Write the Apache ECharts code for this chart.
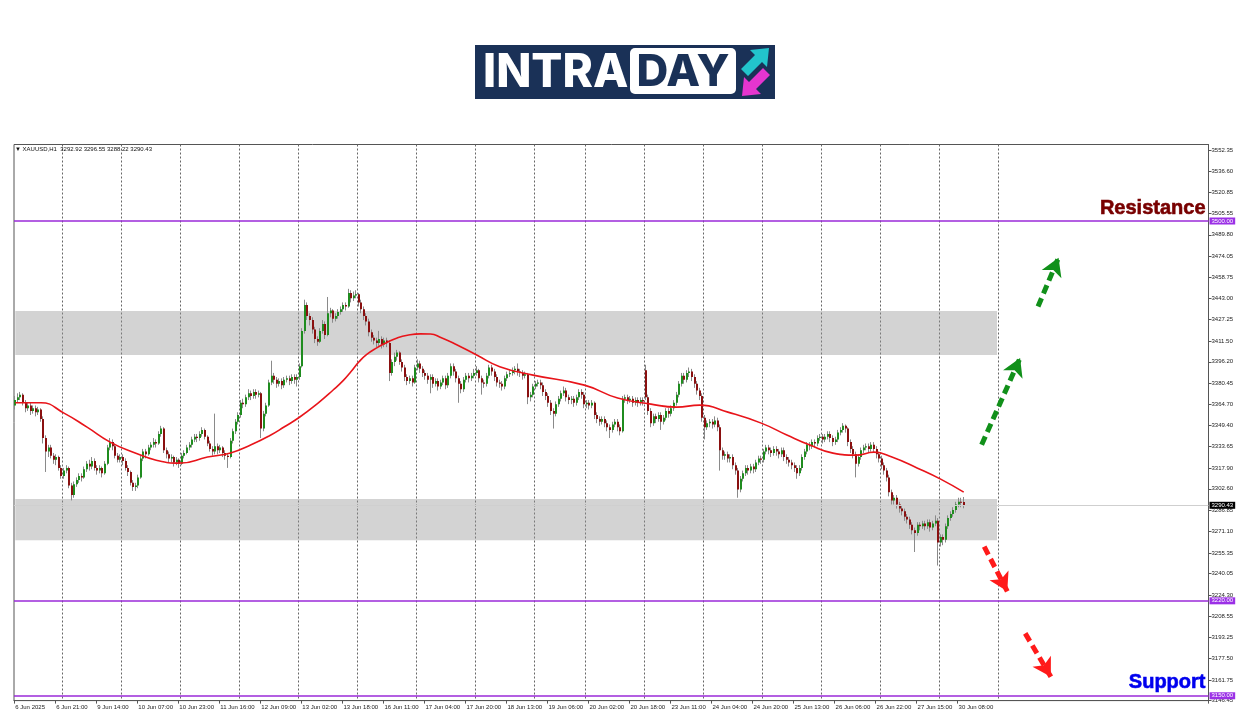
<!DOCTYPE html>
<html><head><meta charset="utf-8">
<script src="https://cdn.jsdelivr.net/npm/echarts@6/dist/echarts.min.js"></script>
<style>html,body{margin:0;padding:0;background:#fff}#c{width:1250px;height:716px}</style>
</head><body><div id="c"></div>
<script>
// ---------------- data ----------------
const symbolName = 'XAUUSD,H1';
const slotCount = 466;          // hourly slots on the axis (incl. empty right margin)
const labelStep = 16;           // bars between time labels
const xTickLabels = ['6 Jun 2025','6 Jun 21:00','9 Jun 14:00','10 Jun 07:00','10 Jun 23:00','11 Jun 16:00','12 Jun 09:00','13 Jun 02:00','13 Jun 18:00','16 Jun 11:00','17 Jun 04:00','17 Jun 20:00','18 Jun 13:00','19 Jun 06:00','20 Jun 02:00','20 Jun 18:00','23 Jun 11:00','24 Jun 04:00','24 Jun 20:00','25 Jun 13:00','26 Jun 06:00','26 Jun 22:00','27 Jun 15:00','30 Jun 08:00'];
const daySeparators = [19,42,65,88,111,134,157,180,203,223,246,269,292,315,338,361,384];
const yTickValues = [3552.35,3536.60,3520.85,3505.55,3489.80,3474.05,3458.75,3443.00,3427.25,3411.50,3396.20,3380.45,3364.70,3349.40,3333.65,3317.90,3302.60,3286.85,3271.10,3255.35,3240.05,3224.30,3208.55,3193.25,3177.50,3161.75,3146.45];
const yMin = 3146.45, yMax = 3556.4;
// [open, close, low, high]
const candles = [
[3364,3368,3361,3371],[3368,3370,3366,3373],[3370,3372,3368,3374],[3372,3366,3364,3373],[3366,3362,3359,3368],[3362,3364,3360,3366],[3364,3360,3357,3366],[3360,3362,3358,3364],[3362,3359,3356,3364],[3359,3361,3357,3363],
[3361,3354,3352,3362],[3354,3340,3336,3356],[3340,3330,3315,3342],[3330,3333,3326,3335],[3333,3327,3325,3335],[3327,3324,3321,3329],[3324,3326,3320,3328],[3326,3318,3316,3327],[3318,3312,3310,3320],[3312,3316,3310,3318],
[3316,3318,3314,3320],[3318,3305,3303,3319],[3305,3298,3294,3307],[3298,3306,3296,3308],[3306,3309,3304,3311],[3309,3312,3307,3314],[3312,3311,3308,3314],[3311,3317,3310,3319],[3317,3321,3315,3323],[3321,3319,3316,3324],
[3319,3323,3317,3326],[3323,3318,3316,3325],[3318,3316,3313,3320],[3316,3318,3314,3320],[3318,3314,3311,3319],[3314,3321,3313,3323],[3321,3333,3320,3335],[3333,3337,3331,3340],[3337,3334,3331,3339],[3334,3327,3325,3336],
[3327,3324,3322,3329],[3324,3326,3322,3328],[3326,3323,3320,3328],[3323,3318,3316,3325],[3318,3315,3312,3320],[3315,3307,3305,3316],[3307,3304,3301,3309],[3304,3305,3301,3307],[3305,3311,3303,3313],[3311,3325,3310,3327],
[3325,3330,3323,3332],[3330,3328,3325,3332],[3328,3333,3327,3335],[3333,3335,3331,3337],[3335,3337,3333,3340],[3337,3336,3333,3339],[3336,3343,3335,3345],[3343,3347,3341,3349],[3347,3331,3329,3348],[3331,3328,3325,3333],
[3328,3325,3322,3330],[3325,3326,3322,3328],[3326,3322,3319,3327],[3322,3324,3320,3326],[3324,3321,3318,3325],[3321,3327,3320,3329],[3327,3329,3325,3331],[3329,3333,3328,3335],[3333,3335,3331,3337],[3335,3339,3333,3341],
[3339,3341,3337,3343],[3341,3340,3337,3343],[3340,3343,3338,3345],[3343,3346,3341,3348],[3346,3341,3339,3347],[3341,3336,3334,3342],[3336,3332,3330,3338],[3332,3330,3327,3334],[3330,3334,3328,3358],[3334,3331,3328,3336],
[3331,3333,3329,3335],[3333,3329,3326,3334],[3329,3327,3324,3331],[3327,3326,3318,3329],[3326,3338,3325,3340],[3338,3345,3336,3347],[3345,3352,3343,3354],[3352,3357,3350,3359],[3357,3366,3355,3368],[3366,3365,3362,3369],
[3365,3370,3363,3372],[3370,3373,3368,3376],[3373,3371,3368,3375],[3371,3374,3369,3376],[3374,3372,3369,3376],[3372,3373,3370,3375],[3373,3347,3340,3374],[3347,3358,3345,3360],[3358,3364,3356,3366],[3364,3381,3363,3383],
[3381,3386,3379,3397],[3386,3383,3380,3388],[3383,3380,3377,3385],[3380,3382,3378,3384],[3382,3379,3376,3384],[3379,3383,3377,3385],[3383,3384,3381,3386],[3384,3382,3379,3386],[3382,3385,3380,3387],[3385,3383,3380,3387],
[3383,3385,3378,3387],[3385,3393,3383,3395],[3393,3419,3392,3421],[3419,3438,3417,3442],[3438,3430,3427,3440],[3430,3427,3423,3432],[3427,3420,3417,3429],[3420,3413,3410,3422],[3413,3411,3408,3415],[3411,3419,3410,3421],
[3419,3424,3417,3427],[3424,3416,3413,3426],[3416,3432,3415,3444],[3432,3434,3429,3436],[3434,3428,3425,3435],[3428,3430,3426,3432],[3430,3433,3428,3435],[3433,3435,3431,3437],[3435,3438,3433,3440],[3438,3437,3434,3440],
[3437,3447,3436,3450],[3447,3443,3440,3449],[3443,3445,3441,3448],[3445,3446,3443,3449],[3446,3440,3437,3447],[3440,3435,3432,3442],[3435,3430,3427,3437],[3430,3426,3423,3432],[3426,3418,3415,3428],[3418,3414,3411,3420],
[3414,3412,3409,3416],[3412,3410,3407,3414],[3410,3413,3408,3419],[3413,3409,3406,3415],[3409,3412,3407,3414],[3412,3410,3407,3414],[3410,3388,3382,3412],[3388,3396,3386,3398],[3396,3400,3393,3403],[3400,3403,3397,3405],
[3403,3396,3394,3404],[3396,3392,3389,3398],[3392,3385,3382,3394],[3385,3382,3379,3387],[3382,3384,3380,3386],[3384,3381,3378,3386],[3381,3392,3380,3394],[3392,3395,3390,3398],[3395,3391,3388,3397],[3391,3388,3385,3393],
[3388,3386,3383,3390],[3386,3383,3380,3388],[3383,3385,3373,3387],[3385,3380,3377,3387],[3380,3382,3378,3384],[3382,3378,3375,3384],[3378,3381,3376,3383],[3381,3384,3379,3386],[3384,3379,3376,3386],[3379,3386,3377,3388],
[3386,3393,3384,3395],[3393,3389,3386,3395],[3389,3384,3381,3391],[3384,3380,3366,3386],[3380,3376,3373,3382],[3376,3383,3374,3385],[3383,3386,3381,3388],[3386,3384,3381,3388],[3384,3386,3382,3388],[3386,3388,3384,3391],
[3388,3390,3386,3393],[3390,3384,3381,3391],[3384,3381,3372,3386],[3381,3380,3377,3383],[3380,3386,3378,3388],[3386,3392,3384,3394],[3392,3389,3386,3394],[3389,3385,3382,3391],[3385,3381,3378,3387],[3381,3380,3377,3383],
[3380,3378,3375,3382],[3378,3384,3376,3386],[3384,3387,3382,3389],[3387,3388,3385,3390],[3388,3390,3386,3392],[3390,3391,3387,3393],[3391,3389,3386,3395],[3389,3388,3385,3391],[3388,3386,3383,3390],[3386,3387,3384,3389],
[3387,3370,3365,3388],[3370,3372,3367,3374],[3372,3378,3370,3380],[3378,3380,3376,3382],[3380,3381,3378,3383],[3381,3379,3376,3383],[3379,3374,3371,3381],[3374,3371,3368,3376],[3371,3366,3363,3373],[3366,3360,3357,3368],
[3360,3358,3347,3362],[3358,3365,3356,3367],[3365,3369,3363,3371],[3369,3373,3367,3375],[3373,3375,3371,3378],[3375,3370,3367,3377],[3370,3368,3365,3372],[3368,3369,3365,3371],[3369,3366,3363,3371],[3366,3370,3364,3372],
[3370,3374,3368,3376],[3374,3372,3369,3376],[3372,3365,3362,3374],[3365,3366,3362,3368],[3366,3364,3361,3368],[3364,3366,3362,3368],[3366,3357,3354,3367],[3357,3354,3351,3359],[3354,3352,3349,3356],[3352,3354,3350,3356],
[3354,3351,3348,3356],[3351,3348,3345,3353],[3348,3346,3340,3350],[3346,3350,3344,3352],[3350,3352,3348,3354],[3352,3348,3345,3354],[3348,3345,3342,3350],[3345,3369,3344,3371],[3369,3370,3366,3372],[3370,3368,3365,3372],
[3368,3369,3366,3371],[3369,3366,3363,3371],[3366,3368,3364,3370],[3368,3366,3363,3370],[3366,3368,3364,3370],[3368,3367,3364,3370],[3390,3370,3368,3394],[3370,3360,3357,3372],[3360,3351,3348,3362],[3351,3356,3349,3358],
[3356,3354,3351,3358],[3354,3357,3352,3359],[3357,3352,3346,3359],[3352,3355,3350,3357],[3355,3360,3353,3362],[3360,3358,3355,3362],[3358,3362,3356,3364],[3362,3366,3360,3368],[3366,3372,3364,3374],[3372,3380,3370,3382],
[3380,3386,3378,3388],[3386,3383,3380,3388],[3383,3388,3381,3390],[3388,3389,3385,3392],[3389,3385,3382,3391],[3385,3380,3377,3387],[3380,3375,3372,3382],[3375,3371,3368,3377],[3371,3355,3352,3373],[3355,3348,3339,3357],
[3348,3351,3346,3353],[3351,3352,3348,3354],[3352,3350,3347,3354],[3350,3353,3348,3356],[3353,3348,3345,3355],[3348,3331,3316,3350],[3331,3327,3324,3333],[3327,3328,3324,3330],[3328,3325,3322,3330],[3325,3326,3322,3328],
[3326,3320,3317,3328],[3320,3316,3313,3322],[3316,3302,3296,3318],[3302,3310,3300,3312],[3310,3314,3308,3316],[3314,3318,3312,3320],[3318,3316,3313,3320],[3316,3319,3314,3321],[3319,3317,3314,3321],[3317,3322,3315,3324],
[3322,3325,3320,3327],[3325,3324,3321,3327],[3324,3330,3322,3332],[3330,3333,3328,3335],[3333,3331,3328,3335],[3331,3329,3326,3333],[3329,3332,3327,3334],[3332,3330,3327,3334],[3330,3328,3325,3332],[3328,3331,3326,3333],
[3331,3326,3323,3333],[3326,3324,3321,3328],[3324,3322,3319,3326],[3322,3320,3317,3324],[3320,3318,3315,3322],[3318,3314,3310,3320],[3314,3318,3312,3320],[3318,3326,3316,3328],[3326,3330,3324,3332],[3330,3335,3328,3337],
[3335,3334,3331,3337],[3334,3337,3332,3339],[3337,3336,3333,3339],[3336,3340,3334,3342],[3340,3341,3338,3343],[3341,3339,3336,3343],[3339,3341,3337,3343],[3341,3343,3339,3345],[3343,3340,3337,3345],[3340,3337,3334,3342],
[3337,3339,3335,3341],[3339,3344,3337,3346],[3344,3346,3342,3348],[3346,3349,3344,3351],[3349,3347,3344,3350],[3347,3337,3334,3348],[3337,3332,3329,3339],[3332,3328,3325,3334],[3328,3321,3311,3330],[3321,3326,3319,3328],
[3326,3331,3324,3333],[3331,3333,3329,3335],[3333,3334,3331,3336],[3334,3332,3329,3336],[3332,3335,3330,3337],[3335,3332,3329,3337],[3332,3328,3325,3334],[3328,3325,3322,3330],[3325,3320,3317,3327],[3320,3316,3313,3322],
[3316,3311,3308,3318],[3311,3300,3297,3313],[3300,3294,3291,3302],[3294,3296,3291,3298],[3296,3291,3288,3298],[3291,3288,3285,3293],[3288,3286,3283,3290],[3286,3282,3279,3288],[3282,3280,3277,3284],[3280,3276,3273,3282],
[3276,3272,3269,3278],[3272,3270,3256,3274],[3270,3276,3268,3278],[3276,3275,3272,3278],[3275,3277,3273,3279],[3277,3275,3272,3279],[3275,3278,3273,3280],[3278,3274,3271,3280],[3274,3277,3272,3279],[3277,3279,3275,3283],
[3279,3263,3246,3281],[3263,3267,3260,3269],[3267,3265,3261,3269],[3265,3275,3263,3277],[3275,3281,3273,3283],[3281,3284,3279,3286],[3284,3287,3282,3289],[3287,3291,3285,3293],[3291,3293,3289,3296],[3293,3292.92,3289,3296],
[3292.92,3290.43,3288.22,3296.55]
];
// moving average: [bar index, value]
const maPoints = [[0,3366],[10,3366],[19,3358.4],[28,3348],[37,3337],[46,3329.6],[55,3323.7],[64,3321.5],[75,3326],[84,3329],[92,3335],[99,3341.5],[105,3348.3],[111,3355.5],[118,3365.6],[124,3375.4],[128,3382.5],[131,3389],[134,3396],[137,3401.5],[141,3406.5],[145,3410.5],[149,3413.8],[153,3415.8],[158,3416.8],[162,3416.7],[166,3414.2],[172,3409],[180,3401.2],[189,3392.6],[202,3386.4],[222,3379],[235,3369.5],[248,3365],[258,3362.8],[267,3364.3],[278,3359.1],[291,3351],[301,3342.2],[310,3334.8],[319,3328.9],[328,3327.4],[335,3329.6],[342,3326],[352,3317.8],[361,3309.7],[370,3300.1]];
const levels = [{value: 3500, note: 'Resistance'}, {value: 3220, note: ''}, {value: 3150, note: 'Support'}];
const lastPrice = 3290.43;
const zones = [[3401.2, 3433.6], [3264.7, 3295.0]];
const zoneEndBar = 383;
const upArrows = [[[377, 3335], [392, 3399]], [[399, 3437], [407, 3473]]];
const downArrows = [[[378, 3260], [387, 3227]], [[394, 3196], [404, 3164]]];

// ---------------- chart ----------------
const FONT = 'Liberation Sans';
const slots = Array.from({length: slotCount}, (_, i) => String(i));
const sepSet = new Set(daySeparators);
const lastBar = candles[candles.length - 1];
const labelTick = (i) => i % labelStep === 0 && i / labelStep < xTickLabels.length;

const BULL = '#1f8c1f', BEAR = '#8a1010', WICK = '#8a8a8a';
function renderCandle(params, api) {
  const i = api.value(0);
  const o = api.value(1), c = api.value(2), l = api.value(3), h = api.value(4);
  const pO = api.coord([i, o]), pC = api.coord([i, c]);
  const pL = api.coord([i, l]), pH = api.coord([i, h]);
  const cx = Math.round(pO[0]);
  const top = Math.min(pO[1], pC[1]), bot = Math.max(pO[1], pC[1]);
  return {
    type: 'group',
    children: [
      {type: 'line', shape: {x1: cx - 0.5, y1: pH[1], x2: cx - 0.5, y2: pL[1]}, style: {stroke: WICK, lineWidth: 1}},
      {type: 'rect', shape: {x: cx - 1, y: top, width: 2, height: Math.max(1, bot - top)}, style: {fill: c >= o ? BULL : BEAR}}
    ]
  };
}

const boxLabel = (bg) => ({show: true, position: 'end', distance: 1, backgroundColor: bg, color: '#fff', fontSize: 6, fontFamily: FONT, padding: [1, 2, 0, 2]});
const noteColor = {Resistance: '#780000', Support: '#0000ee'};

const markLineData = [];
levels.forEach(lv => {
  markLineData.push({yAxis: lv.value, lineStyle: {color: '#9a2ad8', width: 1.5, type: 'solid'}, label: Object.assign(boxLabel('#9b30e6'), {formatter: lv.value.toFixed(2)})});
  if (lv.note) {
    markLineData.push({yAxis: lv.value, lineStyle: {color: 'rgba(0,0,0,0)', width: 0}, label: {show: true, position: 'insideEndTop', distance: 3, formatter: lv.note, fontSize: 20, fontWeight: 900, fontFamily: FONT, color: noteColor[lv.note], textBorderColor: noteColor[lv.note], textBorderWidth: 0.6}});
  }
});
markLineData.push({yAxis: lastPrice, lineStyle: {color: '#cfcfcf', width: 1, type: 'solid'}, label: Object.assign(boxLabel('#000'), {formatter: lastPrice.toFixed(2)})});
const arrowItem = (pair, color) => [
  {coord: pair[0], symbol: 'none', lineStyle: {color, width: 5, type: [9, 5]}, label: {show: false}},
  {coord: pair[1], symbol: 'arrow', symbolSize: [16, 18]}
];
upArrows.forEach(p => markLineData.push(arrowItem(p, '#11901a')));
downArrows.forEach(p => markLineData.push(arrowItem(p, '#ff1a1a')));

const chart = echarts.init(document.getElementById('c'), null, {renderer: 'canvas'});
chart.setOption({
  animation: false,
  backgroundColor: '#fff',
  title: {
    text: '\u25BC ' + symbolName + '  ' + [lastBar[0], lastBar[3], lastBar[2], lastBar[1]].map(v => v.toFixed(2)).join(' '),
    left: 15, top: 146, padding: 0,
    textStyle: {fontSize: 6, fontWeight: 'normal', color: '#111', fontFamily: FONT}
  },
  grid: {left: 14, right: 41.5, top: 144.5, bottom: 15.4, show: true, borderColor: '#555', borderWidth: 1, outerBoundsMode: 'none', containLabel: false},
  xAxis: {
    type: 'category', data: slots, boundaryGap: true,
    axisLine: {show: true, lineStyle: {color: '#555'}},
    axisTick: {show: true, length: 3, interval: labelTick, lineStyle: {color: '#555'}},
    axisLabel: {show: true, interval: labelTick, formatter: (v) => xTickLabels[Number(v) / labelStep] || '', fontSize: 6, fontFamily: FONT, color: '#222', align: 'left', margin: 4},
    splitLine: {show: true, interval: (i) => sepSet.has(i), lineStyle: {color: '#666', type: [2, 2], width: 1}}
  },
  yAxis: {
    type: 'value', position: 'right', min: yMin, max: yMax,
    axisLine: {show: true, lineStyle: {color: '#555'}},
    axisTick: {show: true, length: 3, customValues: yTickValues, lineStyle: {color: '#555'}},
    axisLabel: {customValues: yTickValues, formatter: (v) => v.toFixed(2), fontSize: 6, fontFamily: FONT, color: '#222', margin: 3},
    splitLine: {show: false}
  },
  series: [
    {
      type: 'custom', name: symbolName, z: 2,
      data: candles.map((r, i) => [i, r[0], r[1], r[2], r[3]]),
      encode: {x: 0, y: [1, 2, 3, 4]},
      renderItem: renderCandle
    },
    {
      type: 'line', name: 'MA', z: 3, data: maPoints, smooth: 0.5, symbol: 'none',
      lineStyle: {color: '#e8141a', width: 1.6},
      markArea: {silent: true, itemStyle: {color: 'rgba(150,150,150,0.42)'},
        data: zones.map(([lo, hi]) => [{xAxis: 0, yAxis: hi}, {xAxis: zoneEndBar, yAxis: lo}])},
      markLine: {silent: true, symbol: 'none', animation: false, precision: 2, data: markLineData}
    }
  ],
  graphic: [
    {type: 'rect', shape: {x: 475, y: 45, width: 300, height: 54}, style: {fill: '#1a3157'}},
    {type: 'rect', shape: {x: 630, y: 48, width: 106, height: 46, r: 5}, style: {fill: '#fff'}},
    {type: 'text', style: {text: 'INTRA', x: 483, y: 73, fill: '#fff', fontSize: 46, fontWeight: 800, fontFamily: 'Inter', textVerticalAlign: 'middle'}},
    {type: 'text', style: {text: 'DAY', x: 683, y: 73, fill: '#1a3157', fontSize: 44, fontWeight: 800, fontFamily: 'Inter', textAlign: 'center', textVerticalAlign: 'middle'}},
    {type: 'polygon', shape: {points: [[769,48],[767,67],[762,62],[748,76],[741,69],[755,55],[750,50]]}, style: {fill: '#22c4cc'}},
    {type: 'polygon', shape: {points: [[742,96],[744,77],[749,82],[763,68],[770,75],[756,89],[761,94]]}, style: {fill: '#e535cf'}}
  ]
});
</script>
</body></html>
